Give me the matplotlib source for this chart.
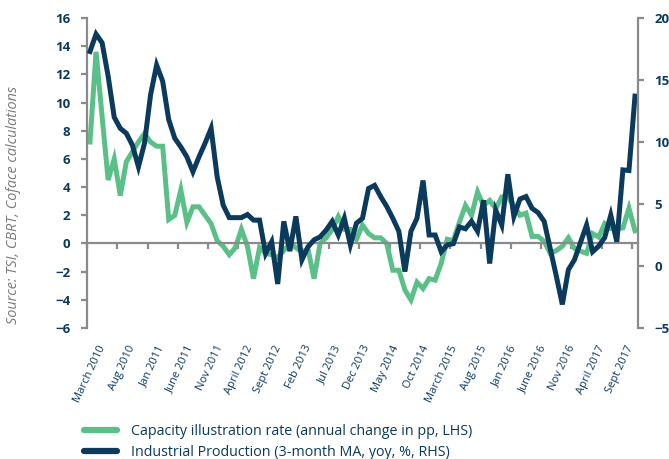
import matplotlib
matplotlib.use("Agg")
import matplotlib.pyplot as plt
import numpy as np

# monthly data, March 2010 - Sept 2017
capacity = [7.2, 13.6, 9.0, 4.5, 6.0, 3.4, 5.8, 6.5, 7.2, 7.8,
            7.2, 6.9, 6.9, 1.7, 2.0, 3.8, 1.5, 2.6, 2.6, 2.0,
            1.4, 0.2, -0.2, -0.8, -0.3, 1.0, -0.2, -2.5, -0.3, -0.7,
            -0.8, -1.0, -0.5, 0.0, -0.3, -0.6, -0.4, -2.5, 0.0, 0.4,
            1.0, 1.9, 1.0, 1.0, 0.3, 1.3, 0.7, 0.4, 0.4, 0.0,
            -1.9, -1.9, -3.3, -4.0, -2.75, -3.2, -2.5, -2.6, -1.4, 0.3,
            0.2, 1.5, 2.7, 2.0, 3.65, 2.7, 3.05, 2.45, 3.3, 3.3,
            2.7, 2.0, 2.15, 0.5, 0.5, 0.15, -0.7, -0.5, -0.2, 0.4,
            -0.35, -0.55, -0.7, 0.7, 0.45, 1.4, 1.05, 1.05, 1.1, 2.5,
            0.9]
industrial = [17.3, 18.7, 18.0, 15.3, 12.0, 11.1, 10.7, 9.75, 8.0, 9.9,
              13.8, 16.2, 14.9, 11.8, 10.3, 9.6, 8.8, 7.6, 8.8, 9.9,
              11.1, 7.2, 4.9, 3.9, 3.9, 3.9, 4.15, 3.7, 3.7, 1.0,
              1.95, -1.45, 3.6, 1.2, 4.0, 0.5, 1.55, 2.1, 2.35, 2.9,
              3.6, 2.5, 3.85, 1.7, 3.45, 3.85, 6.25, 6.5, 5.6, 4.8,
              3.85, 2.8, -0.45, 2.8, 3.85, 6.9, 2.5, 2.5, 1.15, 1.7,
              1.8, 3.15, 3.0, 3.6, 2.8, 5.3, 0.2, 4.5, 3.3, 7.4,
              4.0, 5.4, 5.6, 4.65, 4.3, 3.6, 1.4, -0.8, -3.1, -0.3,
              0.5, 1.9, 3.3, 1.15, 1.6, 2.3, 4.1, 1.95, 7.75, 7.7,
              13.7]
tick_labels = ["March 2010", "Aug 2010", "Jan 2011", "June 2011", "Nov 2011",
               "April 2012", "Sept 2012", "Feb 2013", "Jul 2013", "Dec 2013",
               "May 2014", "Oct 2014", "March 2015", "Aug 2015", "Jan 2016",
               "June 2016", "Nov 2016", "April 2017", "Sept 2017"]

GREEN = "#5bbf88"
NAVY = "#0b3a5d"
GREY = "#8a8a8a"
FONT = "Open Sans"

plt.rcParams["font.family"] = FONT

x = np.arange(len(capacity))
fig = plt.figure(figsize=(6.69, 4.59), dpi=100)
ax = fig.add_axes([0.130, 0.2854, 0.8237, 0.6754])
ax2 = ax.twinx()

ax.plot(x, capacity, color=GREEN, lw=3.6, solid_joinstyle="miter",
        label="Capacity illustration rate (annual change in pp, LHS)")
ax2.plot(x, industrial, color=NAVY, lw=3.6, solid_joinstyle="miter",
         label="Industrial Production (3-month MA, yoy, %, RHS)")

ax.set_xlim(-0.5, len(capacity) - 0.5)
ax.set_ylim(-6, 16)
ax.set_yticks(np.arange(-6, 17, 2))
ax2.set_ylim(-5, 20)
ax2.set_yticks(np.arange(-5, 21, 5))

for a in (ax, ax2):
    for s in a.spines.values():
        s.set_visible(False)
ax.spines["left"].set_visible(True)
ax.spines["bottom"].set_visible(True)
ax.spines["bottom"].set_position(("data", 0))
ax2.spines["right"].set_visible(True)
for s in (ax.spines["left"], ax.spines["bottom"], ax2.spines["right"]):
    s.set_color(GREY)
    s.set_linewidth(1.6)

ticks = np.arange(0, len(capacity), 5) - 0.5
ax.set_xticks(ticks)
ax.tick_params(axis="x", direction="out", length=4, width=1.6, color=GREY,
               labelbottom=False)
ax.tick_params(axis="y", direction="out", length=4, width=1.6, color=GREY,
               labelcolor=NAVY, labelsize=9.5, pad=8)
ax2.tick_params(axis="y", direction="out", length=4, width=1.6, color=GREY,
                labelcolor=NAVY, labelsize=9.5, pad=8)
for lab in ax.get_yticklabels() + ax2.get_yticklabels():
    lab.set_fontweight("bold")

# date labels under the plot area (slightly tighter spacing than the ticks)
sec = ax.secondary_xaxis("bottom")
sec.set_xticks(np.linspace(ticks[0] + 1.85, ticks[-1] - 0.95, len(tick_labels)),
               tick_labels)
sec.spines["bottom"].set_visible(False)
sec.tick_params(length=0, pad=11, labelsize=8.0, labelcolor=NAVY)
for lab in sec.get_xticklabels():
    lab.set_rotation(65)
    lab.set_ha("right")
    lab.set_rotation_mode("anchor")

fig.text(0.02, 0.553, "Source: TSI, CBRT, Coface calculations", rotation=90,
         ha="center", va="center", fontsize=10.4, style="italic", color="#7a7a7a")

h1, l1 = ax.get_legend_handles_labels()
h2, l2 = ax2.get_legend_handles_labels()
leg = fig.legend(h1 + h2, l1 + l2, loc="upper left", bbox_to_anchor=(0.117, 0.089),
                 frameon=False, fontsize=10.3, handlelength=2.3, handletextpad=1.0,
                 labelspacing=0.42, borderaxespad=0)
for t in leg.get_texts():
    t.set_color(NAVY)
for ln in leg.get_lines():
    ln.set_linewidth(4.5)
    ln.set_solid_capstyle("round")

fig.savefig("out.png", dpi=100)
